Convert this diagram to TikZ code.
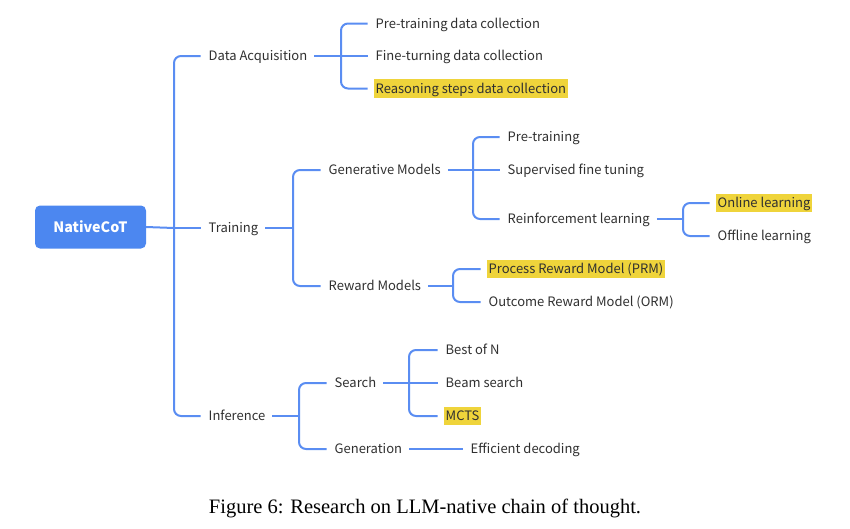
\documentclass[tikz,border=0pt]{standalone}
\usepackage{fontspec}
\setmainfont{Noto Sans CJK SC}
\newfontfamily\capfont{Liberation Serif}
\definecolor{lineblue}{HTML}{5A8DF2}
\definecolor{boxblue}{HTML}{4C87F0}
\definecolor{hlyellow}{HTML}{EFD43B}
\definecolor{txt}{HTML}{303030}
\begin{document}
\begin{tikzpicture}[x=1pt,y=-1pt,
  lbl/.style={anchor=west, inner xsep=1.5pt, inner ysep=2.4pt, text height=11.5pt, text depth=2pt, font=\fontsize{13}{15}\selectfont, text=txt},
  hl/.style={lbl, fill=hlyellow},
  rootbox/.style={fill=boxblue, rounded corners=5pt, minimum width=111pt, minimum height=43pt, text=white, font=\bfseries\fontsize{14.3}{17}\selectfont},
  br/.style={draw=lineblue, line width=2pt, rounded corners=7pt}]
\useasboundingbox (0,-1) rectangle (850,527);
% vertical bar positions
\coordinate (t0) at (174,0);
\coordinate (vda) at (341,0);
\coordinate (vtr) at (293,0);
\coordinate (vgm) at (473,0);
\coordinate (vrl) at (683,0);
\coordinate (vrm) at (453,0);
\coordinate (vin) at (299,0);
\coordinate (vse) at (409,0);
% nodes
\node[rootbox] (root) at (90.5,226) {NativeCoT};
\node[lbl] (da) at (207,55) {Data Acquisition};
\node[lbl] (tr) at (207,227) {Training};
\node[lbl] (inf) at (207,415) {Inference};
\node[lbl] (d1) at (374,22.5) {Pre-training data collection};
\node[lbl] (d2) at (374,55) {Fine-turning data collection};
\node[hl] (d3) at (374,87.5) {Reasoning steps data collection};
\node[lbl] (gm) at (327,169) {Generative Models};
\node[lbl] (rm) at (327,285) {Reward Models};
\node[lbl] (g1) at (506,136) {Pre-training};
\node[lbl] (g2) at (506,169) {Supervised fine tuning};
\node[lbl] (g3) at (506,218) {Reinforcement learning};
\node[hl] (o1) at (716,202) {Online learning};
\node[lbl] (o2) at (716,235) {Offline learning};
\node[hl] (r1) at (487,268) {Process Reward Model (PRM)};
\node[lbl] (r2) at (487,301) {Outcome Reward Model (ORM)};
\node[lbl] (se) at (333,382) {Search};
\node[lbl] (ge) at (333,448) {Generation};
\node[lbl] (s1) at (444,349) {Best of N};
\node[lbl] (s2) at (444,382) {Beam search};
\node[hl] (s3) at (444,415) {MCTS};
\node[lbl] (e1) at (469,448) {Efficient decoding};
\node[font=\capfont\fontsize{20.5}{24}\selectfont, text=black] (cap) at (425,507) {Figure 6: Research on LLM-native chain of thought.};
% root level
\draw[br] (root.east) -- (tr.west -| t0);
\draw[br] ([xshift=-6.5pt]da.west) -- (da.west -| t0) -- (inf.west -| t0) -- ([xshift=-6.5pt]inf.west);
\draw[br] (tr.west -| t0) -- ([xshift=-6.5pt]tr.west);
% data acquisition
\draw[br] ([xshift=5.5pt]da.east) -- (da.east -| vda);
\draw[br] ([xshift=-6.5pt]d1.west) -- (d1.west -| vda) -- (d3.west -| vda) -- ([xshift=-6.5pt]d3.west);
\draw[br] (d2.west -| vda) -- ([xshift=-6.5pt]d2.west);
% training
\draw[br] ([xshift=5.5pt]tr.east) -- (tr.east -| vtr);
\draw[br] ([xshift=-6.5pt]gm.west) -- (gm.west -| vtr) -- (rm.west -| vtr) -- ([xshift=-6.5pt]rm.west);
% generative models
\draw[br] ([xshift=5.5pt]gm.east) -- (gm.east -| vgm);
\draw[br] ([xshift=-6.5pt]g1.west) -- (g1.west -| vgm) -- (g3.west -| vgm) -- ([xshift=-6.5pt]g3.west);
\draw[br] (g2.west -| vgm) -- ([xshift=-6.5pt]g2.west);
% reinforcement learning
\draw[br] ([xshift=5.5pt]g3.east) -- (g3.east -| vrl);
\draw[br] ([xshift=-6.5pt]o1.west) -- (o1.west -| vrl) -- (o2.west -| vrl) -- ([xshift=-6.5pt]o2.west);
% reward models
\draw[br] ([xshift=5.5pt]rm.east) -- (rm.east -| vrm);
\draw[br] ([xshift=-6.5pt]r1.west) -- (r1.west -| vrm) -- (r2.west -| vrm) -- ([xshift=-6.5pt]r2.west);
% inference
\draw[br] ([xshift=5.5pt]inf.east) -- (inf.east -| vin);
\draw[br] ([xshift=-6.5pt]se.west) -- (se.west -| vin) -- (ge.west -| vin) -- ([xshift=-6.5pt]ge.west);
% search
\draw[br] ([xshift=5.5pt]se.east) -- (se.east -| vse);
\draw[br] ([xshift=-6.5pt]s1.west) -- (s1.west -| vse) -- (s3.west -| vse) -- ([xshift=-6.5pt]s3.west);
\draw[br] (s2.west -| vse) -- ([xshift=-6.5pt]s2.west);
% generation
\draw[br] ([xshift=5.5pt]ge.east) -- ([xshift=-6.5pt]e1.west);
\end{tikzpicture}
\end{document}
